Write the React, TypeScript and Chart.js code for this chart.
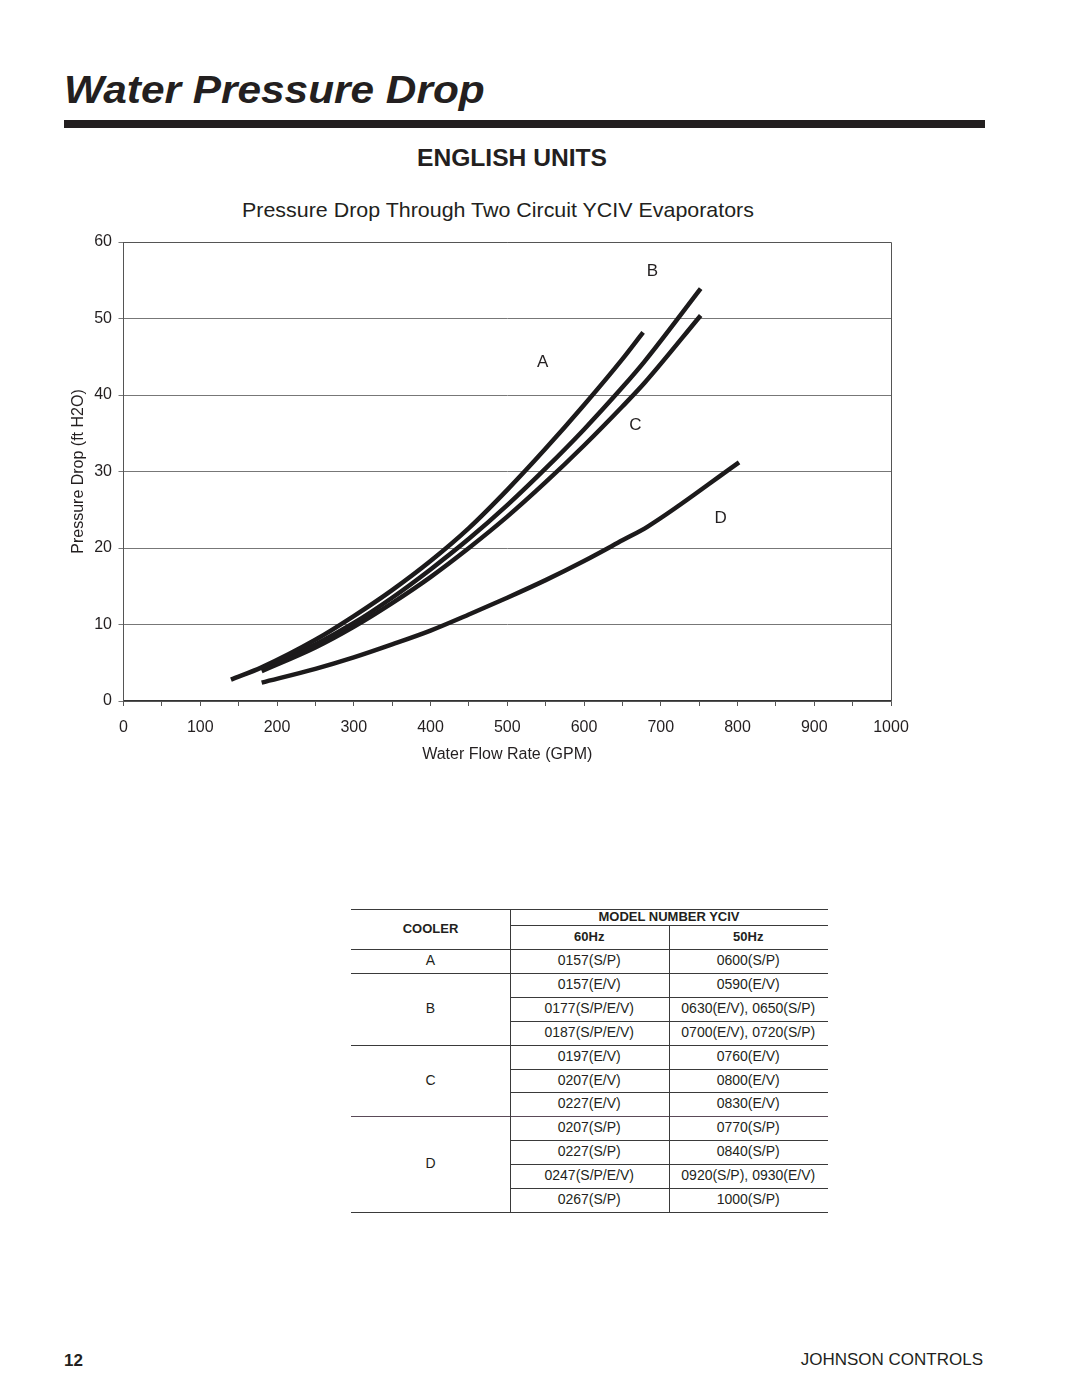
import React, { useEffect, useRef } from "react";
import { Chart, registerables } from "chart.js";

Chart.register(...registerables);

// ---- Chart data (GPM vs ft H2O) ----
const flowA = [140, 180, 250, 300, 350, 400, 450, 500, 550, 600, 650, 677];
const dropA = [2.8, 4.4, 8.0, 11.1, 14.5, 18.3, 22.6, 27.6, 33.0, 38.7, 44.7, 48.2];
const flowB = [180, 250, 300, 350, 400, 450, 500, 550, 600, 650, 679, 752];
const dropB = [4.1, 7.4, 10.2, 13.5, 17.2, 21.2, 25.6, 30.4, 35.5, 41.0, 44.4, 53.9];
const flowC = [180, 250, 300, 350, 400, 450, 500, 550, 600, 650, 679, 752];
const dropC = [3.9, 7.0, 9.7, 12.8, 16.2, 20.0, 24.1, 28.6, 33.4, 38.5, 41.6, 50.4];
const flowD = [180, 250, 300, 350, 400, 450, 500, 550, 600, 650, 683, 802];
const dropD = [2.4, 4.2, 5.7, 7.4, 9.2, 11.3, 13.5, 15.8, 18.3, 21.0, 22.8, 31.2];

const curveNames = ["A", "B", "C", "D"];
const labelFlow = [546, 689, 667, 778];
const labelDrop = [44.3, 56.2, 36.0, 23.9];

const xTickValues = [0, 100, 200, 300, 400, 500, 600, 700, 800, 900, 1000];
const yTickValues = [0, 10, 20, 30, 40, 50, 60];

// ---- Table data ----
const coolerGroups = ["A", "B", "C", "D"];
const groupSizes = [1, 3, 3, 4];
const models60 = [
  "0157(S/P)",
  "0157(E/V)", "0177(S/P/E/V)", "0187(S/P/E/V)",
  "0197(E/V)", "0207(E/V)", "0227(E/V)",
  "0207(S/P)", "0227(S/P)", "0247(S/P/E/V)", "0267(S/P)",
];
const models50 = [
  "0600(S/P)",
  "0590(E/V)", "0630(E/V), 0650(S/P)", "0700(E/V), 0720(S/P)",
  "0760(E/V)", "0800(E/V)", "0830(E/V)",
  "0770(S/P)", "0840(S/P)", "0920(S/P), 0930(E/V)", "1000(S/P)",
];

const FONT = "'Liberation Sans', Arial, Helvetica, sans-serif";
const INK = "#231f20";

function toPoints(xs: number[], ys: number[]) {
  return xs.map((x, i) => ({ x, y: ys[i] }));
}

const boxPlugin = {
  id: "boxAndLabels",
  afterDraw(chart: any) {
    const { ctx, chartArea, scales } = chart;
    ctx.save();
    ctx.strokeStyle = "#555";
    ctx.lineWidth = 1;
    ctx.beginPath();
    ctx.moveTo(chartArea.left, chartArea.top + 0.5);
    ctx.lineTo(chartArea.right + 0.5, chartArea.top + 0.5);
    ctx.lineTo(chartArea.right + 0.5, chartArea.bottom);
    ctx.stroke();
    ctx.fillStyle = INK;
    ctx.font = `17px ${FONT}`;
    ctx.textAlign = "center";
    ctx.textBaseline = "middle";
    curveNames.forEach((n, i) => {
      ctx.fillText(n, scales.x.getPixelForValue(labelFlow[i]), scales.y.getPixelForValue(labelDrop[i]));
    });
    ctx.restore();
  },
};

function PressureChart() {
  const ref = useRef<HTMLCanvasElement | null>(null);
  useEffect(() => {
    if (!ref.current) return;
    const series = [
      toPoints(flowA, dropA),
      toPoints(flowB, dropB),
      toPoints(flowC, dropC),
      toPoints(flowD, dropD),
    ];
    const chart = new Chart(ref.current, {
      type: "line",
      data: {
        datasets: series.map((d, i) => ({
          label: curveNames[i],
          data: d,
          borderColor: "#1c1a1b",
          borderWidth: 4.5,
          pointRadius: 0,
          fill: false,
          borderCapStyle: "butt",
          cubicInterpolationMode: "monotone",
        })),
      },
      options: {
        animation: false,
        responsive: false,
        devicePixelRatio: 1,
        layout: { padding: { left: 0, right: 30, top: 20, bottom: 0 } },
        plugins: { legend: { display: false }, tooltip: { enabled: false } },
        scales: {
          x: {
            type: "linear",
            min: 0,
            max: 1000,
            afterFit: (s: any) => { s.height = 79; },
            ticks: {
              stepSize: 50,
              autoSkip: false,
              maxRotation: 0,
              padding: 12,
              color: INK,
              font: { family: FONT, size: 16 },
              callback: (v: any) => (xTickValues.includes(Number(v)) ? String(v) : ""),
            },
            grid: { drawOnChartArea: false, drawTicks: true, tickLength: 5, color: "#555" },
            border: { color: "#333", width: 1.5 },
            title: {
              display: true,
              text: "Water Flow Rate (GPM)",
              color: INK,
              font: { family: FONT, size: 16 },
              padding: { top: 0, bottom: 15.4 },
            },
          },
          y: {
            type: "linear",
            min: 0,
            max: 60,
            afterFit: (s: any) => { s.width = 63.5; },
            ticks: {
              stepSize: 10,
              padding: 6.5,
              color: INK,
              font: { family: FONT, size: 16 },
              callback: (v: any) => (yTickValues.includes(Number(v)) ? String(v) : ""),
            },
            grid: { color: "#777", lineWidth: 1, tickLength: 5, drawTicks: true },
            border: { color: "#555", width: 1 },
            title: {
              display: true,
              text: "Pressure Drop (ft H2O)",
              color: INK,
              font: { family: FONT, size: 16 },
              padding: { top: 9, bottom: 0 },
            },
          },
        },
      } as any,
      plugins: [boxPlugin],
    });
    return () => chart.destroy();
  }, []);
  return (
    <canvas
      ref={ref}
      width={861}
      height={558}
      style={{ position: "absolute", left: 60, top: 222, width: 861, height: 558 }}
    />
  );
}

function Line(props: { x: number; y: number; w: number; h: number; color?: string }) {
  return (
    <div
      style={{
        position: "absolute",
        left: props.x,
        top: props.y,
        width: props.w,
        height: props.h,
        background: props.color || "#3a3a3a",
      }}
    />
  );
}

function Cell(props: { x: number; y: number; w: number; h: number; text: string; bold?: boolean; size?: number }) {
  return (
    <div
      style={{
        position: "absolute",
        left: props.x,
        top: props.y,
        width: props.w,
        height: props.h,
        lineHeight: props.h + "px",
        textAlign: "center",
        fontFamily: FONT,
        fontSize: props.size || 14,
        fontWeight: props.bold ? "bold" : "normal",
        color: INK,
        whiteSpace: "nowrap",
      }}
    >
      {props.text}
    </div>
  );
}

function ModelTable() {
  const L = 351, C1 = 510, C2 = 668.5, R = 828;
  const top = 909.3, mid = 925, hb = 949.3, rowH = 23.85;
  const items: any[] = [];
  items.push(<Line key="t" x={L} y={top} w={R - L} h={1.2} />);
  items.push(<Line key="m" x={C1} y={mid} w={R - C1} h={1} />);
  items.push(<Line key="hb" x={L} y={hb} w={R - L} h={1.2} />);
  items.push(<Cell key="cool" x={L} y={top} w={C1 - L} h={hb - top} text="COOLER" bold size={13} />);
  items.push(<Cell key="mn" x={C1} y={top} w={R - C1} h={mid - top} text="MODEL NUMBER YCIV" bold size={13} />);
  items.push(<Cell key="h60" x={C1} y={mid} w={C2 - C1} h={hb - mid} text="60Hz" bold size={13} />);
  items.push(<Cell key="h50" x={C2} y={mid} w={R - C2} h={hb - mid} text="50Hz" bold size={13} />);
  let r = 0;
  coolerGroups.forEach((g, gi) => {
    const gTop = hb + r * rowH;
    const n = groupSizes[gi];
    items.push(<Cell key={"g" + g} x={L} y={gTop} w={C1 - L} h={n * rowH} text={g} />);
    for (let k = 0; k < n; k++) {
      const y = hb + (r + k) * rowH;
      items.push(<Cell key={"a" + (r + k)} x={C1} y={y} w={C2 - C1} h={rowH} text={models60[r + k]} />);
      items.push(<Cell key={"b" + (r + k)} x={C2} y={y} w={R - C2} h={rowH} text={models50[r + k]} />);
      const last = k === n - 1;
      items.push(
        <Line key={"l" + (r + k)} x={last ? L : C1} y={y + rowH} w={last ? R - L : R - C1} h={last ? 1.2 : 1} color={last && gi === 2 ? "#5a4a58" : "#3a3a3a"} />
      );
    }
    r += n;
  });
  const bottom = hb + r * rowH;
  items.push(<Line key="v1" x={C1} y={top} w={1} h={bottom - top} />);
  items.push(<Line key="v2" x={C2} y={mid} w={1} h={bottom - mid} />);
  return <>{items}</>;
}

export default function App() {
  return (
    <div
      style={{
        position: "absolute",
        left: 0,
        top: 0,
        width: 1080,
        height: 1397,
        background: "#fff",
        overflow: "hidden",
        fontFamily: FONT,
        color: INK,
      }}
    >
      <div
        style={{
          position: "absolute",
          left: 64,
          top: 70.5,
          fontSize: 38,
          lineHeight: 1,
          fontWeight: "bold",
          fontStyle: "italic",
          whiteSpace: "nowrap",
          transform: "scaleX(1.115)",
          transformOrigin: "left center",
        }}
      >
        Water Pressure Drop
      </div>
      <div style={{ position: "absolute", left: 64, top: 120, width: 921, height: 7.5, background: INK }} />
      <div
        style={{
          position: "absolute",
          left: 512,
          top: 147.2,
          fontSize: 23,
          lineHeight: 1,
          fontWeight: "bold",
          whiteSpace: "nowrap",
          transform: "translateX(-50%) scaleX(1.07)",
        }}
      >
        ENGLISH UNITS
      </div>
      <div
        style={{
          position: "absolute",
          left: 497.6,
          top: 198.9,
          fontSize: 21,
          lineHeight: 1,
          whiteSpace: "nowrap",
          transform: "translateX(-50%) scaleX(1.02)",
        }}
      >
        Pressure Drop Through Two Circuit YCIV Evaporators
      </div>
      <PressureChart />
      <ModelTable />
      <div
        style={{
          position: "absolute",
          left: 64,
          top: 1351.6,
          fontSize: 17,
          lineHeight: 1,
          fontWeight: "bold",
        }}
      >
        12
      </div>
      <div
        style={{
          position: "absolute",
          right: 97,
          top: 1350.6,
          fontSize: 17,
          lineHeight: 1,
          whiteSpace: "nowrap",
        }}
      >
        JOHNSON CONTROLS
      </div>
    </div>
  );
}
